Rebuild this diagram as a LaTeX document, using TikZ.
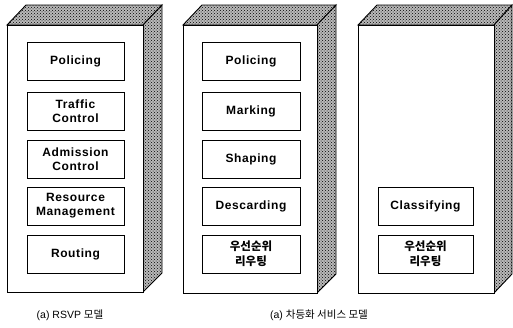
\documentclass[tikz,border=0pt]{standalone}
\usepackage{fontspec}
\setmainfont{Liberation Sans}
\newfontfamily\labfont[LetterSpace=5]{Liberation Sans}
\newfontfamily\kr{Noto Sans CJK KR}
\usetikzlibrary{patterns}
\tikzset{
  panel/.style={draw, line width=0.9pt, fill=white},
  shade/.style={draw, line width=0.9pt, fill=gray!55, postaction={pattern=crosshatch dots}},
  fbox/.style={draw, line width=0.6pt, minimum height=38pt, inner sep=0pt, align=center,
    font=\labfont\fontsize{12}{14}\selectfont\bfseries},
  kbox/.style={fbox, font=\kr\fontsize{11.5}{15}\selectfont\bfseries},
  captext/.style={font=\fontsize{10.5}{12}\selectfont}
}
\begin{document}
\begin{tikzpicture}[x=1pt,y=-1pt]
\useasboundingbox (0,0) rectangle (513,327);
% panel 1
\draw[shade] (7,25) -- (26,5) -- (162,5) -- (143,25) -- cycle;
\draw[shade] (143,25) -- (162,5) -- (162,273) -- (143,292) -- cycle;
\draw[panel] (7,25) rectangle (143,292);
% panel 2
\draw[shade] (183,25) -- (202,5) -- (336,5) -- (317,25) -- cycle;
\draw[shade] (317,25) -- (336,5) -- (336,274) -- (317,293) -- cycle;
\draw[panel] (183,25) rectangle (317,293);
% panel 3
\draw[shade] (358,25) -- (377,5) -- (512,5) -- (494,25) -- cycle;
\draw[shade] (494,25) -- (512,5) -- (512,274) -- (494,293) -- cycle;
\draw[panel] (358,25) rectangle (494,293);
% boxes panel 1
\node[fbox, minimum width=97pt] (a1) at (75.5,61) {Policing};
\node[fbox, minimum width=97pt] (a2) at (75.5,111) {Traffic\\Control};
\node[fbox, minimum width=97pt] (a3) at (75.5,159) {Admission\\Control};
\node[fbox, minimum width=97pt] (a4) at (75.5,206) {Resource\\Management};
\node[fbox, minimum width=97pt] (a5) at (75.5,254) {Routing};
% boxes panel 2
\node[fbox, minimum width=98pt] (b1) at (251,61) {Policing};
\node[fbox, minimum width=98pt] (b2) at (251,111) {Marking};
\node[fbox, minimum width=98pt] (b3) at (251,159) {Shaping};
\node[fbox, minimum width=98pt] (b4) at (251,206) {Descarding};
\node[kbox, minimum width=98pt] (b5) at (251,254) {우선순위\\리우팅};
% boxes panel 3
\node[fbox, minimum width=95pt] (c1) at (425.5,206) {Classifying};
\node[kbox, minimum width=95pt] (c2) at (425.5,254) {우선순위\\리우팅};
% captions
\node[captext] (t1) at (70,315) {(a) RSVP {\kr 모델}};
\node[captext] (t2) at (319,315) {(a) {\kr 차등화 서비스 모델}};
\end{tikzpicture}
\end{document}
